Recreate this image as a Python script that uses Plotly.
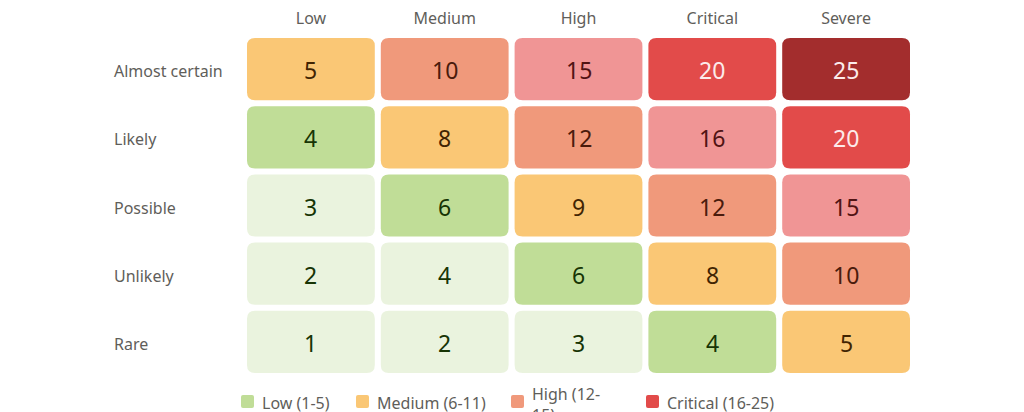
import plotly.graph_objects as go

impact = ["Low", "Medium", "High", "Critical", "Severe"]
likelihood = ["Rare", "Unlikely", "Possible", "Likely", "Almost certain"]  # bottom -> top

# risk score per cell, rows follow `likelihood`
scores = [
    [1, 2, 3, 4, 5],
    [2, 4, 6, 8, 10],
    [3, 6, 9, 12, 15],
    [4, 8, 12, 16, 20],
    [5, 10, 15, 20, 25],
]

# colour band per cell (index into band_fill / band_text)
bands = [
    [0, 0, 0, 1, 2],
    [0, 0, 1, 2, 3],
    [0, 1, 2, 3, 4],
    [1, 2, 3, 4, 5],
    [2, 3, 4, 5, 6],
]

band_fill = ["#EAF3DE", "#C0DD97", "#FAC775", "#F0997B", "#F09595", "#E24B4A", "#A32D2D"]
band_text = ["#173404", "#173404", "#412402", "#4A1B0C", "#501313", "#FCEBEB", "#FCEBEB"]

legend_names = ["Low (1-5)", "Medium (6-11)", "High (12-<br>15)", "Critical (16-25)"]
legend_colors = ["#C0DD97", "#FAC775", "#F0997B", "#E24B4A"]

FONT = "Noto Sans, Open Sans, sans-serif"
LABEL = "#5F5E5A"

# the html body adds an 8px offset, so the figure is sized to fit the window
OFF = 8
W, H = 1024 - OFF, 412 - OFF
margin = dict(l=244 - OFF, r=111, t=35 - OFF, b=36, autoexpand=False)
plot_w = W - margin["l"] - margin["r"]
plot_h = H - margin["t"] - margin["b"]


def px_x(px):
    # page pixel -> paper x
    return (px - OFF - margin["l"]) / plot_w


def px_y(py):
    # page pixel -> paper y
    return 1 - (py - OFF - margin["t"]) / plot_h


def rounded(x0, x1, y0, y1, rx, ry):
    return (
        f"M {x0 + rx},{y0} L {x1 - rx},{y0} Q {x1},{y0} {x1},{y0 + ry} "
        f"L {x1},{y1 - ry} Q {x1},{y1} {x1 - rx},{y1} "
        f"L {x0 + rx},{y1} Q {x0},{y1} {x0},{y1 - ry} "
        f"L {x0},{y0 + ry} Q {x0},{y0} {x0 + rx},{y0} Z"
    )


fig = go.Figure()

# rounded cells drawn as path shapes in axis units
gap_x = 6 / plot_w * len(impact)
gap_y = 6 / plot_h * len(likelihood)
cell_rx = 8 / plot_w * len(impact)
cell_ry = 8 / plot_h * len(likelihood)

xs, ys, hov = [], [], []
for r, row in enumerate(scores):
    for c, val in enumerate(row):
        b = bands[r][c]
        x0, x1 = c - 0.5 + gap_x / 2, c + 0.5 - gap_x / 2
        y0, y1 = r - 0.5 + gap_y / 2, r + 0.5 - gap_y / 2
        fig.add_shape(type="path", path=rounded(x0, x1, y0, y1, cell_rx, cell_ry),
                      fillcolor=band_fill[b], line=dict(width=0), layer="below")
        fig.add_annotation(x=c, y=r, xref="x", yref="y", text=str(val),
                           showarrow=False, yshift=-1,
                           font=dict(family=FONT, size=23, color=band_text[b]))
        xs.append(c)
        ys.append(r)
        hov.append(f"{likelihood[r]} / {impact[c]}: {val}")

# invisible points for hover
fig.add_trace(go.Scatter(
    x=xs, y=ys, mode="markers", marker=dict(size=40, opacity=0),
    hovertext=hov, hoverinfo="text", showlegend=False,
))

# row labels, left aligned
for r, lab in enumerate(likelihood):
    fig.add_annotation(x=px_x(114), xref="paper", y=r, yref="y",
                       text=lab, showarrow=False, xanchor="left",
                       xshift=-2, yshift=-2,
                       font=dict(family=FONT, size=16, color=LABEL))

# legend: swatches + labels under the grid
legend_left_px = [241, 356, 511, 646]
sw = 13
sw_rx = 2 / plot_w
sw_ry = 2 / plot_h
for name, col, left in zip(legend_names, legend_colors, legend_left_px):
    fig.add_shape(type="path", xref="paper", yref="paper",
                  path=rounded(px_x(left), px_x(left + sw),
                               px_y(395 + sw), px_y(395), sw_rx, sw_ry),
                  fillcolor=col, line=dict(width=0))
    two_line = "<br>" in name
    fig.add_annotation(x=px_x(left + 19), xref="paper",
                       y=px_y(381 if two_line else 390), yref="paper",
                       yanchor="top", xanchor="left",
                       text=name, showarrow=False, align="left",
                       font=dict(family=FONT, size=16, color=LABEL))

fig.update_xaxes(range=[-0.5, 4.5], tickvals=list(range(5)), ticktext=impact,
                 side="top", showgrid=False, zeroline=False, showline=False,
                 ticks="", ticklabelstandoff=7,
                 tickfont=dict(family=FONT, size=16, color=LABEL),
                 fixedrange=True)
fig.update_yaxes(range=[-0.5, 4.5], showticklabels=False, showgrid=False,
                 zeroline=False, showline=False, fixedrange=True)

fig.update_layout(
    width=W, height=H, margin=margin,
    paper_bgcolor="white", plot_bgcolor="white",
    font=dict(family=FONT, color=LABEL),
    showlegend=False,
)

fig.write_html("out.html")
